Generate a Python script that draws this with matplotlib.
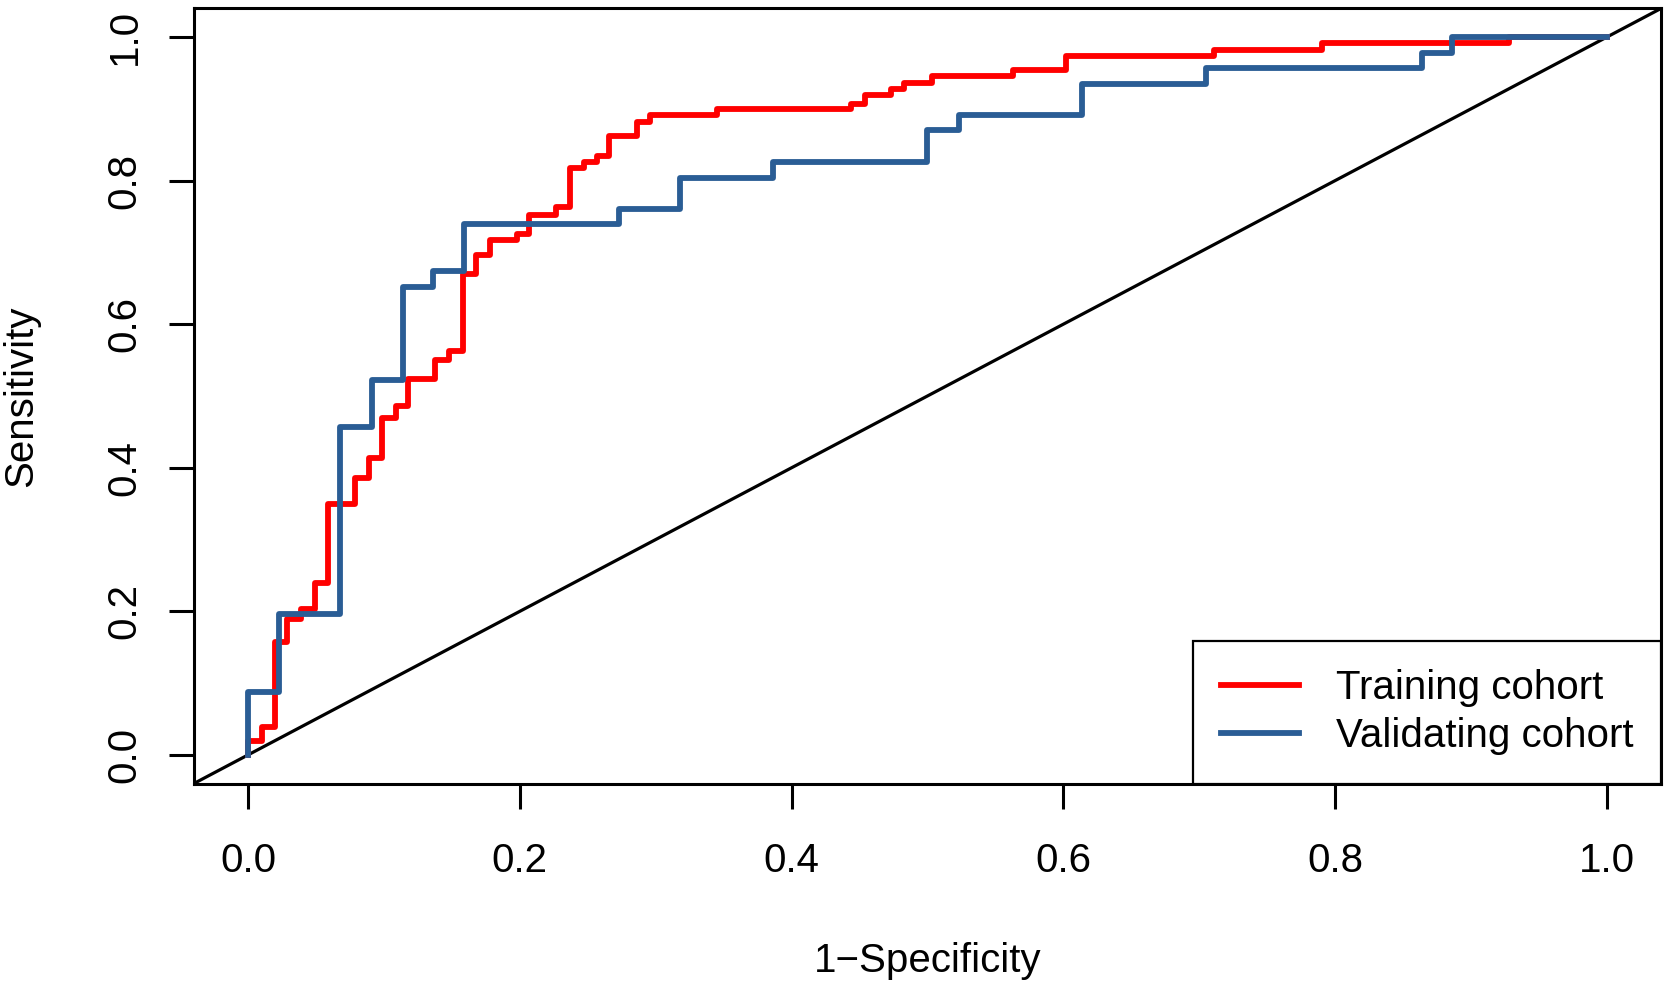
import matplotlib
matplotlib.use('Agg')
import matplotlib.pyplot as plt
from matplotlib.ticker import FormatStrFormatter

plt.rcParams['font.family'] = ['Liberation Sans', 'DejaVu Sans']

# ROC corner points (1 - specificity, sensitivity)
train_fpr = [0.000, 0.000, 0.010, 0.020, 0.029, 0.039, 0.049, 0.059, 0.079, 0.089,
             0.099, 0.109, 0.118, 0.138, 0.148, 0.158, 0.168, 0.178, 0.198, 0.207,
             0.227, 0.237, 0.247, 0.257, 0.266, 0.286, 0.296, 0.345, 0.444, 0.454,
             0.473, 0.483, 0.503, 0.563, 0.602, 0.711, 0.790, 0.928, 1.000]
train_tpr = [0.000, 0.020, 0.039, 0.157, 0.190, 0.203, 0.239, 0.350, 0.386, 0.413,
             0.469, 0.486, 0.523, 0.550, 0.562, 0.670, 0.697, 0.717, 0.726, 0.752,
             0.763, 0.817, 0.826, 0.834, 0.862, 0.881, 0.891, 0.900, 0.907, 0.919,
             0.927, 0.936, 0.946, 0.954, 0.973, 0.982, 0.991, 1.000, 1.000]

valid_fpr = [0.000, 0.000, 0.023, 0.068, 0.091, 0.114, 0.136, 0.159, 0.273, 0.318,
             0.386, 0.500, 0.523, 0.614, 0.705, 0.864, 0.886, 1.000]
valid_tpr = [0.000, 0.087, 0.196, 0.457, 0.522, 0.652, 0.674, 0.739, 0.761, 0.804,
             0.826, 0.870, 0.891, 0.935, 0.957, 0.978, 1.000, 1.000]

labels = ['Training cohort', 'Validating cohort']
colors = ['#FF0000', '#2A5D95']
ticks = [0.0, 0.2, 0.4, 0.6, 0.8, 1.0]

fig = plt.figure(figsize=(16.66, 9.86), dpi=100)
ax = fig.add_axes([0.1162, 0.2052, 0.8810, 0.7864])

ax.axline((0, 0), (1, 1), color='black', lw=2.3, zorder=1)
ax.step(train_fpr, train_tpr, where='post', color=colors[0], lw=4.2,
        label=labels[0], zorder=2)
ax.step(valid_fpr, valid_tpr, where='post', color=colors[1], lw=4.2,
        label=labels[1], zorder=3)

ax.set_xlim(-0.04, 1.04)
ax.set_ylim(-0.04, 1.04)
ax.set_xticks(ticks)
ax.set_yticks(ticks)
ax.xaxis.set_major_formatter(FormatStrFormatter('%.1f'))
ax.yaxis.set_major_formatter(FormatStrFormatter('%.1f'))

for s in ax.spines.values():
    s.set_linewidth(2.2)
ax.tick_params(axis='both', direction='out', length=18, width=2.2,
               labelsize=29)
ax.tick_params(axis='x', pad=24)
ax.tick_params(axis='y', pad=18, labelrotation=90)
for t in ax.get_yticklabels():
    t.set_va('center')

ax.set_xlabel('1\u2212Specificity', fontsize=29)
ax.set_ylabel('Sensitivity', fontsize=29)
ax.xaxis.set_label_coords(0.5, -0.2036)
ax.yaxis.set_label_coords(-0.1044, 0.5)

leg = ax.legend(loc='lower right', borderaxespad=0, fontsize=29,
                fancybox=False, framealpha=1, edgecolor='black',
                handlelength=1.95, handletextpad=0.9, borderpad=0.7,
                labelspacing=0.25)
leg.get_frame().set_linewidth(1.6)
for line in leg.get_lines():
    line.set_linewidth(4.2)

fig.savefig('out.png', dpi=100)
